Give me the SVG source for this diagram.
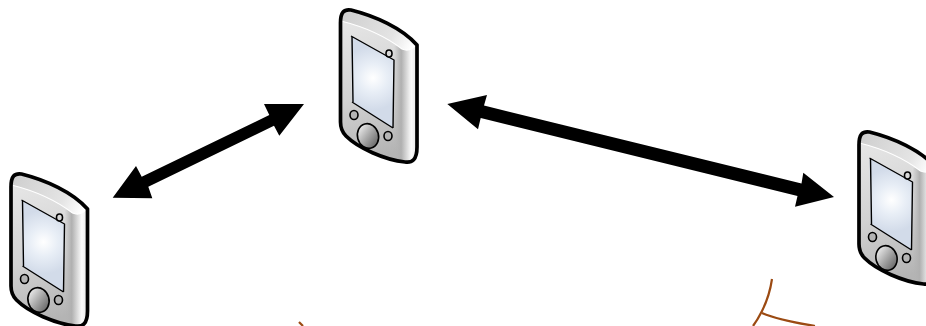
<svg xmlns="http://www.w3.org/2000/svg" width="926" height="326" viewBox="0 0 926 326">
<style>
.edge{fill:none;stroke:#9b4a12;stroke-width:2.200}
.arrow{fill:#000;stroke:none}
.ol{stroke:#000;stroke-linejoin:round}
</style>
<defs>
<linearGradient id="body" gradientUnits="userSpaceOnUse" x1="15" y1="20" x2="55" y2="155">
<stop offset="0" stop-color="#e6e6e6"/><stop offset=".55" stop-color="#d2d2d2"/><stop offset="1" stop-color="#b4b4b4"/>
</linearGradient>
<linearGradient id="side" gradientUnits="userSpaceOnUse" x1="64" y1="0" x2="88" y2="0">
<stop offset="0" stop-color="#b4b4b4" stop-opacity="0"/><stop offset=".3" stop-color="#b0b0b0"/><stop offset=".72" stop-color="#fbfbfb"/><stop offset="1" stop-color="#e2e2e2"/>
</linearGradient>
<linearGradient id="top" gradientUnits="userSpaceOnUse" x1="14" y1="14" x2="80" y2="50">
<stop offset="0" stop-color="#cfcfcf"/><stop offset=".7" stop-color="#e4e4e4"/><stop offset="1" stop-color="#ffffff"/>
</linearGradient>
<radialGradient id="screen" gradientUnits="userSpaceOnUse" cx="43" cy="78" r="32">
<stop offset="0" stop-color="#ffffff"/><stop offset=".45" stop-color="#e8eef6"/><stop offset="1" stop-color="#d2dbe9"/>
</radialGradient>
<linearGradient id="btn" gradientUnits="userSpaceOnUse" x1="30" y1="126" x2="46" y2="146">
<stop offset="0" stop-color="#eeeeee"/><stop offset=".5" stop-color="#a8a8a8"/><stop offset="1" stop-color="#666666"/>
</linearGradient>
<g id="pda">
<path d="M10.500 23C10.500 12 14 9 21 10C45 16 72 28 87 45V147C87 160 82 163 75 162C55 160 28 148 16 136C12 132 10.500 127 10.500 122Z" fill="url(#body)"/>
<path d="M64 46H87V147C87 160 82 163 75 162C71 161.500 67 160 64 159Z" fill="url(#side)"/>
<path d="M11 21C11 12 15 10 21 11C45 17 72 29 86 45C82 50 77 51 72 49C55 36 35 27 11 21Z" fill="url(#top)"/>
<path d="M11 21C35 27 55 36 72 49C77 51 82 50 86 45" fill="none" stroke="#ffffff" stroke-width="1.200"/>
<path d="M10.500 23C10.500 12 14 9 21 10C45 16 72 28 87 45V147C87 160 82 163 75 162C55 160 28 148 16 136C12 132 10.500 127 10.500 122Z" fill="none" class="ol" stroke-width="3.700"/>
<path d="M21 36L64 60L63 128L22 102Z" fill="url(#screen)"/>
<path d="M21 36L64 60L63 128M22 102L63 128M22 36L23 102" fill="none" class="ol" stroke-width="1.400"/>
<ellipse cx="59" cy="53.500" rx="3" ry="3.500" fill="#d8d8d8" class="ol" stroke-width="1.600"/>
<ellipse cx="24" cy="115" rx="4" ry="4.500" fill="#b4b4b4" class="ol" stroke-width="1.600"/>
<ellipse cx="58" cy="136" rx="4" ry="4.500" fill="#b4b4b4" class="ol" stroke-width="1.600"/>
<ellipse cx="38" cy="136" rx="10.500" ry="12.500" fill="url(#btn)" class="ol" stroke-width="1.600" transform="rotate(-15 38 136)"/>
</g>
</defs>
<g id="connectors">
<path class="arrow" d="M112.700 197.700L136 166L141.700 176.700L269.300 115L264 104L304 104L279.300 135.700L274 125.700L148.300 186.700L152.300 198.300Z"/>
<path class="arrow" d="M447.300 104L487 95L484 105.500L801.500 183.500L803.300 172.700L834 197L795 206.700L797.500 196L480.700 118L478 129.300Z"/>
<path class="edge" d="M772 279C770 293 766 303 762 311C759 317 756 322 753 326"/>
<path class="edge" d="M762 313C778 320 797 323 815 326"/>
<path class="edge" d="M299 322L303 326"/>
</g>
<g id="device-1" transform="translate(330 0)"><use href="#pda"/></g>
<g id="device-2" transform="translate(0.500 164)"><use href="#pda"/></g>
<g id="device-3" transform="translate(848.500 122)"><use href="#pda"/></g>
</svg>
